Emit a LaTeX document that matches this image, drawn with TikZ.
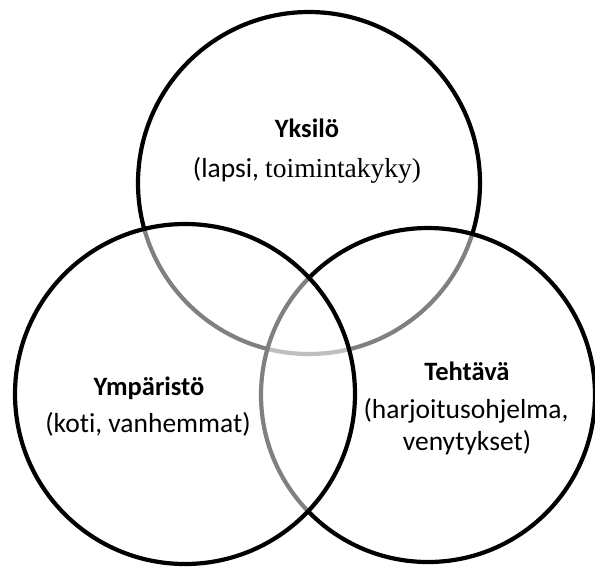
\documentclass[tikz,border=0pt]{standalone}
\usepackage{fontspec}
\setmainfont{Carlito}[Ligatures=NoCommon]
\newfontfamily\timesfont{Liberation Serif}
\begin{document}
\begin{tikzpicture}[x=1pt,y=-1pt,
  ring/.style={circle, draw=black, line width=4.2pt, fill=white, fill opacity=0.5, inner sep=0pt},
  head/.style={anchor=base, font=\fontsize{26.5}{30}\selectfont\bfseries, inner sep=0pt},
  body/.style={anchor=base, font=\fontsize{27.5}{32}\selectfont, inner sep=0pt}]
\useasboundingbox (0,0) rectangle (595,566);
\node[ring, minimum size=342pt] (top) at (309,183) {};
\node[ring, minimum size=334pt] (right) at (428,395) {};
\node[ring, minimum size=340pt] (left) at (185,394) {};
\node[head] (yksilo) at (307,137) {Yksilö};
\node[body] (yksilob) at (307,177) {(lapsi, {\timesfont toimintakyky)}};
\node[head] (ymp) at (149,395) {Ympäristö};
\node[body] (ympb) at (148,432) {(koti, vanhemmat)};
\node[head] (teht) at (467,380) {Tehtävä};
\node[body] (tehtb) at (466,418) {(harjoitusohjelma,};
\node[body] (tehtc) at (467,450) {venytykset)};
\end{tikzpicture}
\end{document}
